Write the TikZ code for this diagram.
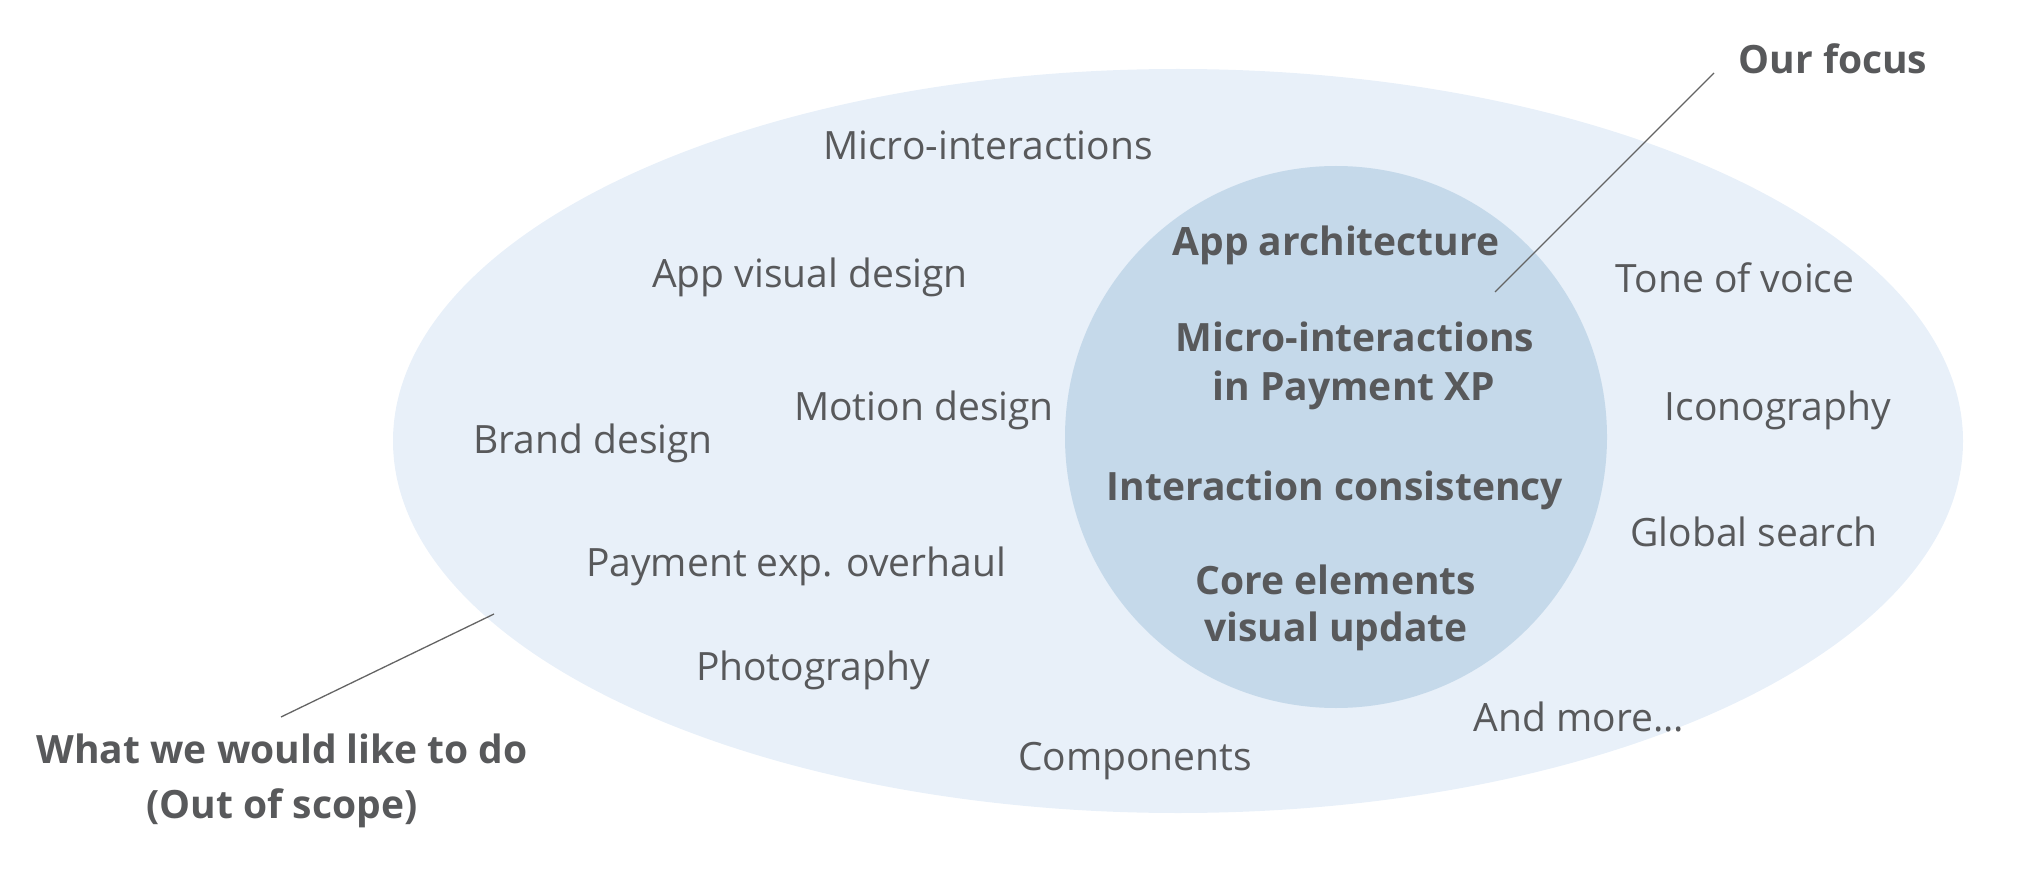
\documentclass[tikz,border=0pt]{standalone}
\usepackage{fontspec}
\setmainfont{Open Sans}
\definecolor{outerblue}{RGB}{232,240,249}
\definecolor{innerblue}{RGB}{197,217,234}
\definecolor{textgray}{RGB}{88,89,91}
\definecolor{linegray}{RGB}{100,100,100}
\begin{document}
\begin{tikzpicture}[x=1pt,y=-1pt,
  txt/.style={font=\fontsize{39}{47}\selectfont, text=textgray, anchor=base, inner sep=0pt},
  btxt/.style={font=\fontsize{39}{47}\selectfont\bfseries, text=textgray, anchor=base, inner sep=0pt},
  leader/.style={draw=linegray, line width=1.3pt}]
\useasboundingbox (0,0) rectangle (2035,885);
\fill[outerblue] (1178,441) ellipse [x radius=785, y radius=372];
\fill[innerblue] (1336,437) circle [radius=271];
% outer items
\node[txt] (mi)  at (988,160) {Micro-interactions};
\node[txt] (avd) at (810,288) {App visual design};
\node[txt] (md)  at (924,420) {Motion design};
\node[txt] (bd)  at (593,453) {Brand design};
\node[txt] (peo) at (796,576) {Payment exp. overhaul};
\node[txt] (ph)  at (813,680) {Photography};
\node[txt] (co)  at (1135,770) {Components};
\node[txt] (am)  at (1579,731) {And more...};
\node[txt] (gs)  at (1754,546) {Global search};
\node[txt] (ic)  at (1778,420) {Iconography};
\node[txt] (tv)  at (1735,293) {Tone of voice};
% inner items
\node[btxt] (aa)  at (1336,256) {App architecture};
\node[btxt] (mi1) at (1355,352) {Micro-interactions};
\node[btxt] (mi2) at (1354,400) {in Payment XP};
\node[btxt] (ic2) at (1335,500) {Interaction consistency};
\node[btxt] (ce1) at (1336,594) {Core elements};
\node[btxt] (ce2) at (1336,641) {visual update};
% labels
\node[btxt] (focus) at (1833,74) {Our focus};
\node[btxt] (want1) at (282,763) {What we would like to do};
\node[btxt] (want2) at (282,818) {(Out of scope)};
\coordinate (fa) at (1714,73);
\coordinate (fb) at (1495,292);
\coordinate (wa) at (281,717);
\coordinate (wb) at (494,614);
\draw[leader] (fa) -- (fb);
\draw[leader] (wa) -- (wb);
\end{tikzpicture}
\end{document}
